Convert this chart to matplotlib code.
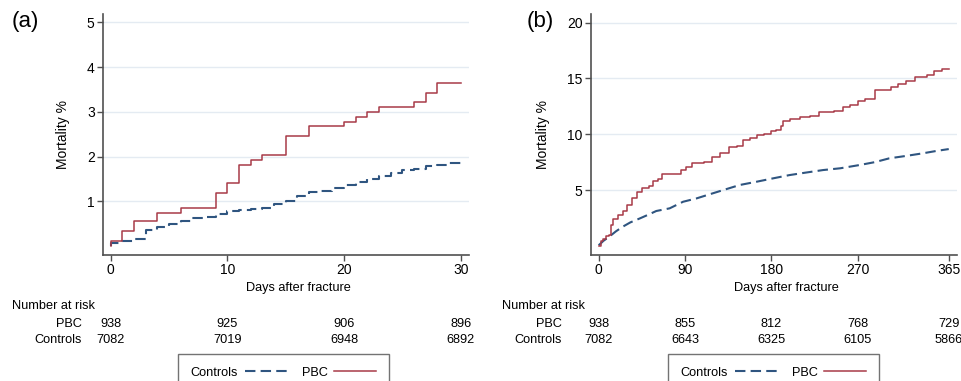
import matplotlib
matplotlib.use("Agg")
import matplotlib.pyplot as plt
import matplotlib.transforms as mtransforms

plt.rcParams['font.family'] = ['Liberation Sans', 'DejaVu Sans']

# ---------------- data ----------------
# Panel (a): 30-day mortality (%)
a_days_pbc = [0, 0, 1, 2, 4, 6, 9, 10, 11, 12, 13, 15, 17, 20, 21, 22, 23, 26, 27, 28, 30]
a_pbc = [0, 0.12, 0.34, 0.55, 0.75, 0.86, 1.18, 1.40, 1.82, 1.93, 2.04, 2.46, 2.68, 2.78,
         2.89, 3.00, 3.11, 3.22, 3.43, 3.65, 3.65]
a_days_ctrl = [0] + list(range(0, 31))
a_ctrl = [0, 0.07, 0.12, 0.16, 0.36, 0.43, 0.50, 0.57, 0.62, 0.66, 0.72, 0.78, 0.80, 0.82,
          0.86, 0.93, 1.00, 1.12, 1.20, 1.23, 1.29, 1.37, 1.43, 1.49, 1.57, 1.64, 1.69,
          1.72, 1.78, 1.82, 1.86, 1.88]

# Panel (b): 1-year mortality (%)
b_days_pbc = [0, 2, 4, 8, 11, 13, 15, 20, 25, 30, 35, 40, 45, 52, 57, 62, 66, 80, 86, 91,
              97, 110, 118, 126, 136, 144, 150, 158, 165, 172, 180, 185, 190, 192, 200,
              210, 220, 230, 245, 255, 262, 270, 278, 288, 300, 305, 312, 320, 330, 342,
              350, 358, 365]
b_pbc = [0, 0.4, 0.65, 0.9, 1.0, 1.9, 2.4, 2.8, 3.15, 3.7, 4.3, 4.8, 5.15, 5.35, 5.8, 5.95,
         6.45, 6.45, 6.75, 7.05, 7.4, 7.55, 7.95, 8.3, 8.85, 8.95, 9.45, 9.7, 9.95, 10.0,
         10.3, 10.4, 10.7, 11.2, 11.4, 11.5, 11.6, 12.0, 12.1, 12.4, 12.6, 13.0, 13.2,
         14.0, 14.0, 14.2, 14.5, 14.8, 15.1, 15.3, 15.7, 15.85, 15.85]
b_days_ctrl = [0, 5, 11, 18, 25, 33, 43, 52, 60, 74, 88, 102, 115, 130, 147, 165, 182, 199,
               215, 234, 252, 272, 288, 303, 320, 338, 352, 365]
b_ctrl = [0.05, 0.45, 0.82, 1.3, 1.71, 2.1, 2.46, 2.8, 3.12, 3.36, 3.95, 4.25, 4.6, 5.0, 5.45,
          5.75, 6.05, 6.34, 6.55, 6.79, 6.95, 7.24, 7.5, 7.84, 8.05, 8.29, 8.5, 8.67]

# Number at risk tables
a_risk_times = [0, 10, 20, 30]
a_risk_pbc = [938, 925, 906, 896]
a_risk_ctrl = [7082, 7019, 6948, 6892]
b_risk_times = [0, 90, 180, 270, 365]
b_risk_pbc = [938, 855, 812, 768, 729]
b_risk_ctrl = [7082, 6643, 6325, 6105, 5866]

a_xticks = [0, 10, 20, 30]
a_yticks = [1, 2, 3, 4, 5]
b_xticks = [0, 90, 180, 270, 365]
b_yticks = [5, 10, 15, 20]

# ---------------- style ----------------
RED = '#a83a48'
BLUE = '#2f5580'
SPINE = '#505050'
GRID = '#e4ebf2'
W, H = 962, 381

fig = plt.figure(figsize=(W / 100, H / 100), dpi=100)
fig.patch.set_facecolor('white')


def px_axes(x0, x1, y0, y1):
    return fig.add_axes([x0 / W, 1 - y1 / H, (x1 - x0) / W, (y1 - y0) / H])


def style_axes(ax, xticks, yticks, xlim, ylim):
    ax.set_xlim(*xlim)
    ax.set_ylim(*ylim)
    ax.set_xticks(xticks)
    ax.set_yticks(yticks)
    for s in ['top', 'right']:
        ax.spines[s].set_visible(False)
    for s in ['left', 'bottom']:
        ax.spines[s].set_color(SPINE)
        ax.spines[s].set_linewidth(1.2)
    ax.tick_params(axis='both', length=4, width=1.0, color=SPINE, labelsize=10, pad=2)
    ax.grid(axis='y', color=GRID, linewidth=1.0)
    ax.set_axisbelow(True)
    ax.set_ylabel('Mortality %', fontsize=10, labelpad=12)
    ax.text(0.533, -0.135, 'Days after fracture', transform=ax.transAxes,
            ha='center', va='center', fontsize=9.2)


def risk_table(ax, times, pbc, ctrl, label_x, title_x):
    tr = mtransforms.blended_transform_factory(ax.transData, fig.transFigure)
    fig.text(title_x / W, 1 - 306 / H, 'Number at risk', ha='left', va='center', fontsize=9.2)
    fig.text(label_x / W, 1 - 324 / H, 'PBC', ha='right', va='center', fontsize=9.2)
    fig.text(label_x / W, 1 - 340 / H, 'Controls', ha='right', va='center', fontsize=9.2)
    for t, p, c in zip(times, pbc, ctrl):
        ax.text(t, 1 - 324 / H, str(p), transform=tr, ha='center', va='center',
                fontsize=9.2, clip_on=False)
        ax.text(t, 1 - 340 / H, str(c), transform=tr, ha='center', va='center',
                fontsize=9.2, clip_on=False)


def add_legend(ax, handles, x_left):
    leg = ax.legend(handles=handles, loc='upper left',
                    bbox_to_anchor=(x_left / W, 1 - 354 / H), bbox_transform=fig.transFigure,
                    ncol=2, frameon=True, fancybox=False, edgecolor=SPINE, fontsize=9.2,
                    markerfirst=False, handlelength=3.3, handletextpad=0.5,
                    columnspacing=1.2, borderpad=1.0, borderaxespad=0)
    leg.get_frame().set_linewidth(1.0)
    return leg


# ---------------- panel (a) ----------------
axa = px_axes(103, 469, 14, 255)
la_c, = axa.plot(a_days_ctrl, a_ctrl, drawstyle='steps-post', color=BLUE, lw=1.5,
                 dashes=(5, 2.5), label='Controls')
la_p, = axa.plot(a_days_pbc, a_pbc, drawstyle='steps-post', color=RED, lw=1.1, label='PBC')
style_axes(axa, a_xticks, a_yticks, (-0.66, 30.7), (-0.2, 5.19))
risk_table(axa, a_risk_times, a_risk_pbc, a_risk_ctrl, label_x=82, title_x=12)
add_legend(axa, [la_c, la_p], 178)
fig.text(12 / W, 1 - 22 / H, '(a)', fontsize=16, ha='left', va='center')

# ---------------- panel (b) ----------------
axb = px_axes(591, 957, 14, 255)
lb_c, = axb.plot(b_days_ctrl, b_ctrl, color=BLUE, lw=1.5, dashes=(5, 2.5), label='Controls')
lb_p, = axb.plot(b_days_pbc, b_pbc, drawstyle='steps-post', color=RED, lw=1.1, label='PBC')
style_axes(axb, b_xticks, b_yticks, (-8, 373.6), (-0.82, 20.77))
risk_table(axb, b_risk_times, b_risk_pbc, b_risk_ctrl, label_x=562, title_x=502)
add_legend(axb, [lb_c, lb_p], 668)
fig.text(527 / W, 1 - 22 / H, '(b)', fontsize=16, ha='left', va='center')

fig.savefig('out.png', dpi=100, facecolor='white')
